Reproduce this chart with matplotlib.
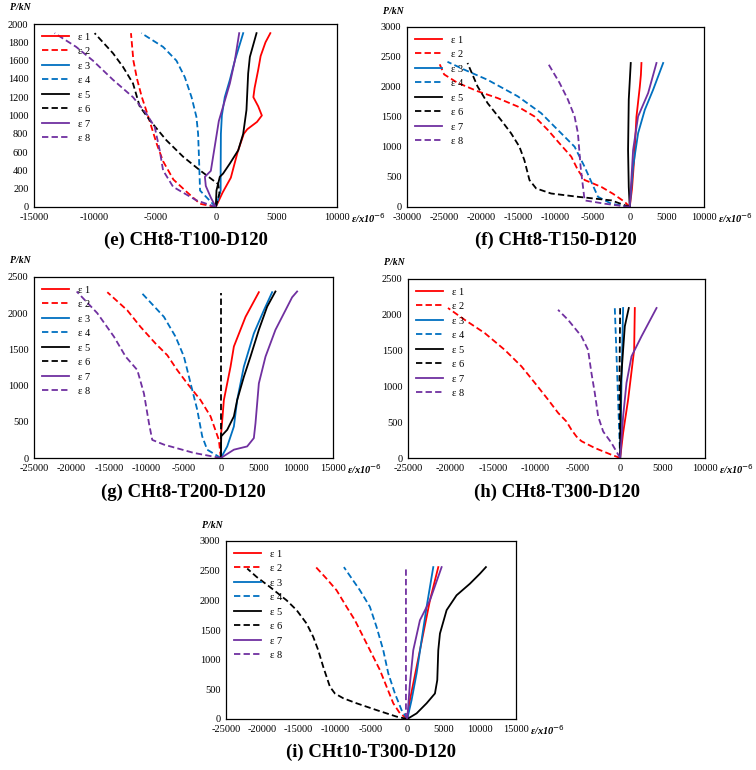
import matplotlib
matplotlib.use("Agg")
import matplotlib.pyplot as plt

OUTPUT_PATH = "out.png"
FIG_W, FIG_H = 756, 770

plt.rcParams["font.family"] = ["Liberation Serif", "DejaVu Serif"]
plt.rcParams["axes.unicode_minus"] = False

LABELS = ["ε 1", "ε 2", "ε 3", "ε 4", "ε 5", "ε 6", "ε 7", "ε 8"]
COLORS = ["#FF0000", "#FF0000", "#0070C0", "#0070C0", "#000000", "#000000", "#7030A0", "#7030A0"]
DASHED = [False, True, False, True, False, True, False, True]

# (e) CHt8-T100-D120
E_STRAIN = [
    [0, 550, 1240, 1800, 2310, 2600, 3400, 3800, 3500, 3100, 3200, 3500, 3700, 4100, 4500],
    [0, -1300, -2400, -3500, -4350, -4900, -5600, -6100, -6500, -6800, -7000],
    [0, 400, 400, 420, 500, 740, 1160, 1570, 2260],
    [0, -1300, -1380, -1460, -1600, -2000, -2560, -3250, -4350, -6140],
    [0, 55, 330, 600, 1160, 1850, 2260, 2530, 2670, 2810, 3360],
    [0, 300, 200, -1300, -2700, -4080, -5460, -6280, -6830, -7650, -8480, -10000],
    [0, -400, -825, -900, -410, 250, 1160, 1570, 1930],
    [0, -1600, -3520, -4350, -4630, -5040, -5730, -6830, -8480, -10140, -11520, -13300],
]
E_LOAD = [
    [0, 155, 320, 600, 800, 850, 930, 1000, 1100, 1200, 1300, 1500, 1650, 1800, 1900],
    [0, 35, 165, 300, 500, 700, 1000, 1200, 1400, 1600, 1900],
    [0, 180, 400, 800, 1000, 1200, 1390, 1600, 1900],
    [0, 180, 510, 800, 985, 1200, 1420, 1600, 1750, 1900],
    [0, 180, 330, 365, 475, 620, 800, 1060, 1460, 1640, 1900],
    [0, 150, 250, 400, 550, 730, 950, 1100, 1350, 1530, 1680, 1900],
    [0, 100, 230, 330, 395, 940, 1350, 1600, 1900],
    [0, 73, 220, 400, 620, 875, 1020, 1200, 1390, 1600, 1750, 1900],
]

# (f) CHt8-T150-D120
F_STRAIN = [
    [0, 300, 600, 900, 1350, 1500, 1575],
    [0, -675, -2250, -3830, -6080, -6980, -7880, -9460, -11040, -12840, -15090, -17790, -20500, -23200, -25000, -25670],
    [0, 450, 1125, 2030, 3150, 4500],
    [0, -2480, -4280, -5180, -6080, -7430, -9690, -11940, -15090, -19150, -22300, -24550],
    [0, -135, -225, -135, 135],
    [0, -2480, -6980, -10590, -12610, -13510, -14190, -14860, -15990, -17340, -19140, -20500, -21850],
    [0, 450, 1125, 2480, 3600],
    [0, -3380, -6080, -6620, -6980, -7430, -8330, -9460, -11040],
]
F_LOAD = [
    [0, 300, 800, 1500, 2000, 2200, 2400],
    [0, 85, 220, 335, 450, 615, 840, 1060, 1285, 1510, 1675, 1815, 1930, 2070, 2210, 2400],
    [0, 670, 1230, 1620, 1955, 2400],
    [0, 55, 170, 420, 670, 1005, 1285, 1565, 1845, 2120, 2290, 2420],
    [0, 335, 950, 1790, 2400],
    [0, 110, 170, 225, 310, 450, 780, 1005, 1230, 1450, 1730, 2010, 2400],
    [0, 950, 1510, 1900, 2400],
    [0, 55, 110, 670, 1230, 1510, 1790, 2070, 2400],
]

# (g) CHt8-T200-D120
G_STRAIN = [
    [0, 45, 400, 1290, 1740, 3300, 5080],
    [0, -270, -1380, -2720, -4500, -5840, -7170, -8730, -10740, -12520, -15190],
    [0, 850, 1740, 2180, 3070, 4410, 5750, 6860],
    [0, -1830, -2500, -3160, -4050, -4940, -6060, -7620, -10510],
    [0, 45, 850, 1740, 2180, 3070, 3960, 5080, 6190, 7300],
    [0, 0],
    [0, 1740, 3520, 4410, 4630, 5080, 5970, 7300, 8640, 9530, 10200],
    [0, -3610, -7620, -9180, -9620, -10290, -11180, -12740, -14300, -16530, -19290],
]
G_LOAD = [
    [0, 345, 800, 1260, 1540, 1950, 2290],
    [0, 250, 575, 800, 1030, 1215, 1420, 1580, 1810, 2040, 2290],
    [0, 160, 435, 800, 1260, 1720, 2040, 2290],
    [0, 115, 300, 665, 1030, 1400, 1675, 1950, 2270],
    [0, 300, 390, 575, 800, 1120, 1400, 1770, 2090, 2300],
    [0, 2280],
    [0, 115, 160, 275, 480, 1030, 1400, 1770, 2040, 2220, 2300],
    [0, 70, 185, 250, 480, 890, 1215, 1400, 1675, 2000, 2300],
]

# (h) CHt8-T300-D120
H_STRAIN = [
    [0, 350, 940, 1650, 1730],
    [0, -1020, -2990, -4560, -5150, -5740, -6330, -7310, -8490, -10060, -11630, -13600, -15960, -18320, -20290],
    [0, 160, 350],
    [0, -310, -630],
    [0, 80, 350, 550, 1020],
    [0, -80, 0],
    [0, 350, 750, 1340, 2520, 4290],
    [0, -1020, -2000, -2590, -2990, -3380, -3780, -4560, -6140, -7320],
]
H_LOAD = [
    [0, 350, 815, 1510, 2095],
    [0, 45, 140, 235, 300, 395, 510, 630, 815, 1050, 1280, 1510, 1745, 1930, 2095],
    [0, 1050, 2095],
    [0, 1050, 2095],
    [0, 1050, 1510, 1840, 2095],
    [0, 1050, 2095],
    [0, 580, 1050, 1420, 1700, 2095],
    [0, 210, 370, 580, 910, 1185, 1510, 1700, 1930, 2070],
]

# (i) CHt10-T300-D120
I_STRAIN = [
    [0, 370, 1290, 2210, 3130, 4280],
    [0, -1010, -1930, -2850, -3770, -4920, -6070, -7220, -8370, -9750, -11130, -12600],
    [0, 600, 1290, 1980, 2670, 3590],
    [0, -780, -1700, -2620, -3310, -4230, -5150, -6530, -8740],
    [0, 1290, 2670, 3820, 4140, 4280, 4510, 5430, 6800, 8640, 10030, 10850],
    [0, -1470, -4230, -6990, -8830, -9980, -10670, -11590, -12280, -12970, -13890, -15260, -16640, -18940, -20780, -22070],
    [0, 370, 830, 1750, 3130, 4740],
    [0, -180, -180],
]
I_LOAD = [
    [0, 320, 880, 1440, 2000, 2560],
    [0, 95, 265, 545, 825, 1105, 1385, 1665, 1890, 2170, 2365, 2560],
    [0, 320, 770, 1330, 1890, 2560],
    [0, 150, 430, 770, 1160, 1550, 1890, 2170, 2560],
    [0, 95, 265, 430, 655, 1160, 1440, 1835, 2085, 2280, 2450, 2560],
    [0, 40, 150, 265, 350, 430, 545, 880, 1160, 1385, 1610, 1835, 2000, 2225, 2395, 2535],
    [0, 600, 1160, 1665, 2000, 2560],
    [0, 50, 2560],
]

# panel title, strain, load, x limits, y limits, x step, y step, axes box in px (left, top, right, bottom)
PANELS = [
    ("(e) CHt8-T100-D120", E_STRAIN, E_LOAD, (-15000, 10000), (0, 2000), 5000, 200, (34, 24, 337, 207)),
    ("(f) CHt8-T150-D120", F_STRAIN, F_LOAD, (-30000, 10000), (0, 3000), 5000, 500, (407, 27, 704, 207)),
    ("(g) CHt8-T200-D120", G_STRAIN, G_LOAD, (-25000, 15000), (0, 2500), 5000, 500, (34, 277, 333, 458)),
    ("(h) CHt8-T300-D120", H_STRAIN, H_LOAD, (-25000, 10000), (0, 2500), 5000, 500, (408, 279, 705, 458)),
    ("(i) CHt10-T300-D120", I_STRAIN, I_LOAD, (-25000, 15000), (0, 3000), 5000, 500, (226, 541, 516, 719)),
]
TITLE_Y = [240, 240, 492, 492, 752]


def px_rect(box):
    left, top, right, bottom = box
    return [left / FIG_W, 1 - bottom / FIG_H, (right - left) / FIG_W, (bottom - top) / FIG_H]


def draw_panel(fig, title, strain, load, xlim, ylim, xstep, ystep, box, title_y):
    ax = fig.add_axes(px_rect(box))
    for xs, ys, lab, col, dash in zip(strain, load, LABELS, COLORS, DASHED):
        ls = (0, (3.5, 1.8)) if dash else "-"
        ax.plot(xs, ys, color=col, linestyle=ls, linewidth=1.3, label=lab)

    ax.set_xlim(*xlim)
    ax.set_ylim(*ylim)
    ax.set_xticks(range(xlim[0], xlim[1] + 1, xstep))
    ax.set_yticks(range(ylim[0], ylim[1] + 1, ystep))
    ax.tick_params(length=0, labelsize=7.5, pad=4)
    for sp in ax.spines.values():
        sp.set_linewidth(0.9)

    ax.legend(loc="upper left", frameon=False, fontsize=7.5, handlelength=2.6,
              handletextpad=0.8, labelspacing=0.5, borderaxespad=0.4)

    width = box[2] - box[0]
    height = box[3] - box[1]
    ax.text(1 + 14 / width, -11 / height, "ε/x10$^{-6}$", transform=ax.transAxes,
            fontsize=7.5, fontweight="bold", style="italic", ha="left", va="center")
    ax.text(-14 / width, 1 + 16 / height, "P/kN", transform=ax.transAxes,
            fontsize=7, fontweight="bold", style="italic", ha="center", va="center")

    cx = (box[0] + box[2]) / 2 / FIG_W
    fig.text(cx, 1 - title_y / FIG_H, title, fontsize=13.5, fontweight="bold",
             ha="center", va="center")
    return ax


def main():
    fig = plt.figure(figsize=(FIG_W / 100, FIG_H / 100), dpi=100)
    for (title, strain, load, xlim, ylim, xs, ys, box), ty in zip(PANELS, TITLE_Y):
        draw_panel(fig, title, strain, load, xlim, ylim, xs, ys, box, ty)
    fig.savefig(OUTPUT_PATH, dpi=100)
    plt.close(fig)


if __name__ == "__main__":
    main()
